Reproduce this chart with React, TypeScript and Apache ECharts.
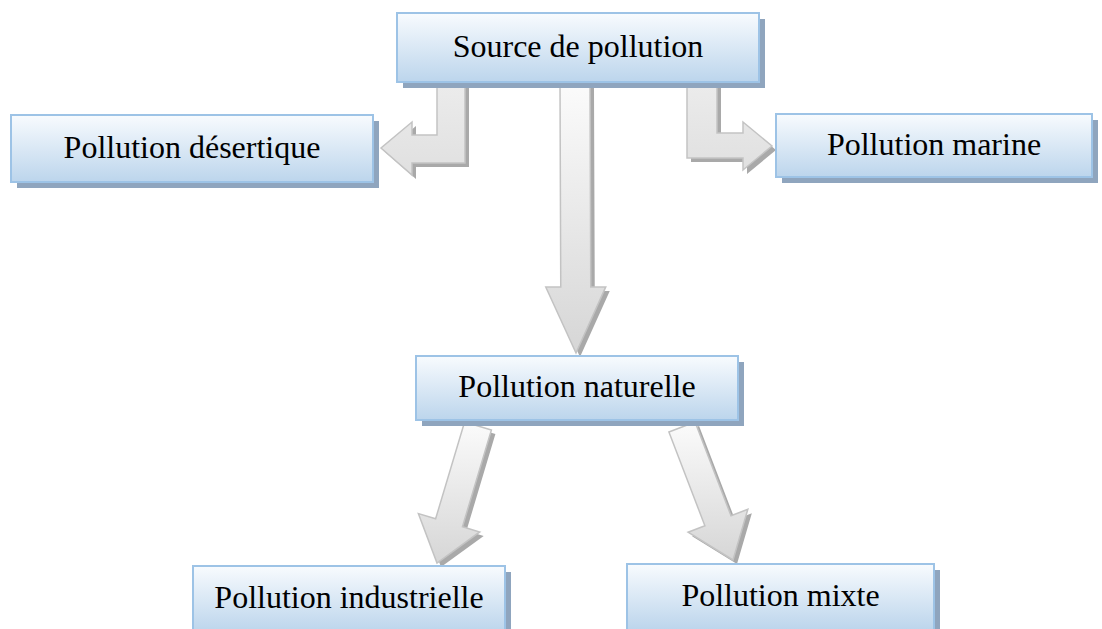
import React, { useEffect, useRef } from "react";
import * as echarts from "echarts";

// Node labels (diagram content)
const NODE_LABELS: string[] = [
  "Source de pollution",
  "Pollution désertique",
  "Pollution marine",
  "Pollution naturelle",
  "Pollution industrielle",
  "Pollution mixte",
];

// Box layout [x, y, w, h]
const BOX_LAYOUT: number[][] = [
  [397, 13, 362, 69],
  [11, 115, 362, 67],
  [776, 114, 316, 63],
  [416, 356, 322, 64],
  [193, 566, 312, 66],
  [627, 564, 307, 66],
];

// Elbow arrows as polygons
const ELBOW_ARROWS: number[][][] = [
  [[437, 80], [465, 80], [465, 163], [412, 163], [412, 175], [381, 148], [412, 122], [412, 135], [437, 135]],
  [[687, 80], [717, 80], [717, 133], [743, 133], [743, 122], [772, 146], [743, 170], [743, 158], [687, 158]],
];

// Straight arrows: [x1, y1, x2, y2, shaftWidth, headWidth, headLength]
const STRAIGHT_ARROWS: number[][] = [
  [575, 84, 576, 353, 30, 60, 66],
  [478, 426, 437, 563, 28, 64, 42],
  [682, 427, 733, 560, 28, 64, 42],
];

function arrowPoints(a: number[]): number[][] {
  const [x1, y1, x2, y2, sw, hw, hl] = a;
  const dx = x2 - x1, dy = y2 - y1;
  const len = Math.sqrt(dx * dx + dy * dy);
  const ux = dx / len, uy = dy / len;
  const nx = -uy, ny = ux;
  const bx = x2 - ux * hl, by = y2 - uy * hl;
  return [
    [x1 + nx * sw / 2, y1 + ny * sw / 2],
    [bx + nx * sw / 2, by + ny * sw / 2],
    [bx + nx * hw / 2, by + ny * hw / 2],
    [x2, y2],
    [bx - nx * hw / 2, by - ny * hw / 2],
    [bx - nx * sw / 2, by - ny * sw / 2],
    [x1 - nx * sw / 2, y1 - ny * sw / 2],
  ];
}

function shift(pts: number[][], d: number): number[][] {
  return pts.map((p) => [p[0] + d, p[1] + d]);
}

export default function App() {
  const ref = useRef<HTMLDivElement>(null);
  useEffect(() => {
    document.body.style.margin = "0";
    if (!ref.current) return;
    const chart = echarts.init(ref.current, null, { renderer: "svg" });

    const arrowFill = {
      type: "linear", x: 0, y: 0, x2: 0, y2: 1,
      colorStops: [
        { offset: 0, color: "#fbfbfb" },
        { offset: 1, color: "#d6d6d6" },
      ],
    };
    const elbowFill = {
      type: "linear", x: 0, y: 0, x2: 0, y2: 1,
      colorStops: [
        { offset: 0, color: "#ececec" },
        { offset: 1, color: "#e0e0e0" },
      ],
    };

    const elements: any[] = [];
    const polys: { pts: number[][]; fill: any }[] = [];
    ELBOW_ARROWS.forEach((p) => polys.push({ pts: p, fill: elbowFill }));
    STRAIGHT_ARROWS.forEach((a) => polys.push({ pts: arrowPoints(a), fill: arrowFill }));

    polys.forEach((p) => {
      elements.push({
        type: "polygon",
        shape: { points: shift(p.pts, 4) },
        style: { fill: "#a9a9a9" },
        silent: true,
      });
    });
    polys.forEach((p) => {
      elements.push({
        type: "polygon",
        shape: { points: p.pts },
        style: { fill: p.fill, stroke: "#c3c3c3", lineWidth: 1.5 },
        silent: true,
      });
    });

    BOX_LAYOUT.forEach((b, i) => {
      const [x, y, w, h] = b;
      elements.push({
        type: "rect",
        shape: { x: x + 6, y: y + 6, width: w, height: h },
        style: { fill: "#8fa5be" },
        silent: true,
      });
      elements.push({
        type: "rect",
        shape: { x, y, width: w, height: h },
        style: {
          fill: {
            type: "linear", x: 0, y: 0, x2: 0, y2: 1,
            colorStops: [
              { offset: 0, color: "#f8fbfe" },
              { offset: 1, color: "#bcd5ec" },
            ],
          },
          stroke: "#9dc3e6",
          lineWidth: 2,
        },
        silent: true,
      });
      elements.push({
        type: "text",
        x: x + w / 2,
        y: y + h / 2 - 2,
        style: {
          text: NODE_LABELS[i],
          fill: "#000",
          font: '32px "Liberation Serif", "Times New Roman", serif',
          align: "center",
          verticalAlign: "middle",
        },
        silent: true,
      });
    });

    chart.setOption({
      animation: false,
      backgroundColor: "#ffffff",
      graphic: { elements },
    });
    return () => chart.dispose();
  }, []);
  return <div ref={ref} style={{ width: 1102, height: 629 }} />;
}
